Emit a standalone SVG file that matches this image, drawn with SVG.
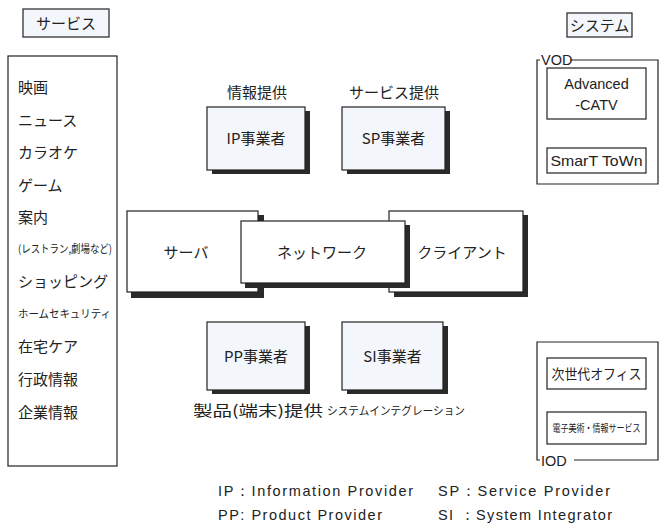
<svg xmlns="http://www.w3.org/2000/svg" width="667" height="526" viewBox="0 0 667 526">
<style>
text{font-family:"Noto Sans CJK JP","Noto Sans",sans-serif;fill:#222;}
.t15{font-size:15px;}
.mid{text-anchor:middle;}
.box{fill:#fff;stroke:#222;stroke-width:1.2;}
.lbox{fill:#f3f6fb;stroke:#222;stroke-width:1.2;}
.sh{fill:#2a2a2a;}
.frame{fill:none;stroke:#222;stroke-width:1.2;}
.en{font-family:"Liberation Sans","Noto Sans",sans-serif;font-size:14.5px;}
</style>
<rect width="667" height="526" fill="#fff"/>

<g id="service-title">
<rect class="lbox" x="23" y="9" width="86" height="28"/>
<text class="t15 mid" x="66" y="29">サービス</text>
</g>

<g id="services">
<rect class="box" x="8" y="56" width="109" height="410"/>
<text class="t15" x="18" y="93">映画</text>
<text class="t15" x="18" y="126">ニュース</text>
<text class="t15" x="18" y="158">カラオケ</text>
<text class="t15" x="18" y="191">ゲーム</text>
<text class="t15" x="18" y="223">案内</text>
<text x="18" y="253" font-size="11" textLength="94" lengthAdjust="spacingAndGlyphs">(レストラン,劇場など)</text>
<text class="t15" x="18" y="287">ショッピング</text>
<text x="18" y="318" font-size="11" textLength="93" lengthAdjust="spacingAndGlyphs">ホームセキュリティ</text>
<text class="t15" x="18" y="352">在宅ケア</text>
<text class="t15" x="18" y="385">行政情報</text>
<text class="t15" x="18" y="418">企業情報</text>
</g>

<g id="system-title">
<rect class="lbox" x="567" y="13" width="65" height="24"/>
<text class="t15 mid" x="599.5" y="31">システム</text>
</g>

<g id="vod">
<path class="frame" d="M540 60 H537 V184 H658 V60 H570"/>
<text class="en" x="541" y="65" font-size="14">VOD</text>
<rect class="box" x="547" y="68" width="99" height="51"/>
<text class="en mid" x="596.5" y="89">Advanced</text>
<text class="en mid" x="596.5" y="110">-CATV</text>
<rect class="box" x="547" y="148" width="99" height="25"/>
<text class="en mid" x="596.5" y="166" textLength="92" lengthAdjust="spacingAndGlyphs">SmarT ToWn</text>
</g>

<g id="iod">
<path class="frame" d="M540 460 H537 V342 H658 V460 H574"/>
<text class="en" x="541" y="466" font-size="14">IOD</text>
<rect class="box" x="547" y="358" width="99" height="31"/>
<text class="mid" x="596.5" y="379" font-size="14" textLength="90" lengthAdjust="spacingAndGlyphs">次世代オフィス</text>
<rect class="box" x="547" y="412" width="99" height="32"/>
<text class="mid" x="596.5" y="432" font-size="10.5" textLength="88" lengthAdjust="spacingAndGlyphs">電子美術・情報サービス</text>
</g>

<g id="ip">
<text class="t15 mid" x="257" y="98">情報提供</text>
<rect class="sh" x="212" y="111" width="98" height="63"/>
<rect class="lbox" x="207" y="107" width="98" height="63"/>
<text class="t15 mid" x="256" y="144">IP事業者</text>
</g>

<g id="sp">
<text class="t15 mid" x="394" y="98">サービス提供</text>
<rect class="sh" x="347" y="111" width="103" height="63"/>
<rect class="lbox" x="342" y="107" width="103" height="63"/>
<text class="t15 mid" x="393.5" y="144">SP事業者</text>
</g>

<g id="server">
<rect class="sh" x="131" y="215" width="133" height="83"/>
<rect class="box" x="127" y="211" width="131" height="81"/>
<text class="t15 mid" x="186" y="258">サーバ</text>
</g>

<g id="client">
<rect class="sh" x="394" y="215" width="134" height="82"/>
<rect class="box" x="389" y="211" width="134" height="81"/>
<text class="t15 mid" x="462" y="258">クライアント</text>
</g>

<g id="network">
<rect class="sh" x="245" y="225" width="165" height="63"/>
<rect class="box" x="241" y="221" width="164" height="62"/>
<text class="t15 mid" x="322" y="258">ネットワーク</text>
</g>

<g id="pp">
<rect class="sh" x="212" y="326" width="98" height="68"/>
<rect class="lbox" x="207" y="322" width="98" height="68"/>
<text class="t15 mid" x="256" y="362">PP事業者</text>
<text class="t15 mid" x="258" y="416" textLength="130" lengthAdjust="spacingAndGlyphs">製品(端末)提供</text>
</g>

<g id="si">
<rect class="sh" x="347" y="326" width="101" height="68"/>
<rect class="lbox" x="342" y="322" width="101" height="68"/>
<text class="t15 mid" x="392.5" y="362">SI事業者</text>
<text class="mid" x="396" y="415" font-size="11.5" textLength="138" lengthAdjust="spacingAndGlyphs">システムインテグレーション</text>
</g>

<g id="connectors"></g>

<g id="legend">
<text class="en" x="218" y="496" textLength="195" lengthAdjust="spacing" xml:space="preserve">IP：Information Provider</text>
<text class="en" x="438" y="496" textLength="172" lengthAdjust="spacing" xml:space="preserve">SP：Service Provider</text>
<text class="en" x="218" y="520" textLength="164" lengthAdjust="spacing" xml:space="preserve">PP: Product Provider</text>
<text class="en" x="438" y="520" textLength="174" lengthAdjust="spacing" xml:space="preserve">SI ：System Integrator</text>
</g>
</svg>
